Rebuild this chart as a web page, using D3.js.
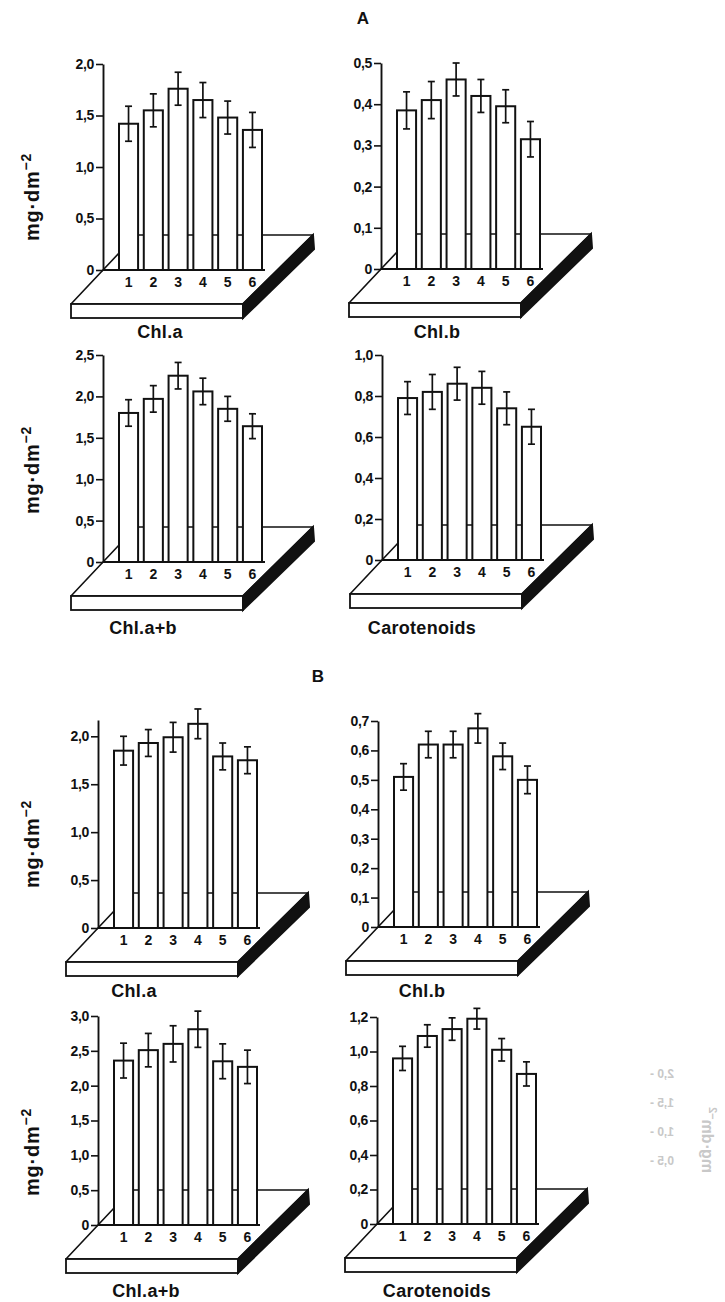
<!DOCTYPE html>
<html>
<head>
<meta charset="utf-8">
<script src="https://cdn.jsdelivr.net/npm/d3@7/dist/d3.min.js"></script>
<style>
  html, body { margin: 0; padding: 0; background: #fff; }
  svg { display: block; }
  text { font-family: "Liberation Sans", Arial, sans-serif; fill: #111; }
</style>
</head>
<body>
<svg id="chart" width="725" height="1302"></svg>
<script>
// ---------- DATA ----------
const categories = ["1", "2", "3", "4", "5", "6"];

// Panel A
const aChlA      = [1.42, 1.55, 1.76, 1.65, 1.48, 1.36];
const aChlAErr   = [0.17, 0.16, 0.16, 0.17, 0.16, 0.17];
const aChlB      = [0.385, 0.41, 0.46, 0.42, 0.395, 0.315];
const aChlBErr   = [0.045, 0.045, 0.04, 0.04, 0.04, 0.043];
const aChlAB     = [1.80, 1.97, 2.25, 2.06, 1.85, 1.64];
const aChlABErr  = [0.16, 0.16, 0.16, 0.16, 0.15, 0.15];
const aCar       = [0.79, 0.82, 0.86, 0.84, 0.74, 0.65];
const aCarErr    = [0.08, 0.085, 0.08, 0.08, 0.08, 0.085];

// Panel B
const bChlA      = [1.85, 1.93, 1.99, 2.13, 1.79, 1.75];
const bChlAErr   = [0.15, 0.14, 0.155, 0.155, 0.14, 0.14];
const bChlB      = [0.51, 0.62, 0.62, 0.675, 0.58, 0.50];
const bChlBErr   = [0.045, 0.045, 0.045, 0.05, 0.045, 0.047];
const bChlAB     = [2.36, 2.51, 2.60, 2.81, 2.35, 2.27];
const bChlABErr  = [0.25, 0.24, 0.26, 0.26, 0.25, 0.24];
const bCar       = [0.96, 1.09, 1.13, 1.19, 1.01, 0.87];
const bCarErr    = [0.07, 0.065, 0.065, 0.06, 0.065, 0.07];

// Tick values
const ticksChlA_A  = [0, 0.5, 1.0, 1.5, 2.0];
const ticksChlB_A  = [0, 0.1, 0.2, 0.3, 0.4, 0.5];
const ticksChlAB_A = [0, 0.5, 1.0, 1.5, 2.0, 2.5];
const ticksCar_A   = [0, 0.2, 0.4, 0.6, 0.8, 1.0];
const ticksChlA_B  = [0, 0.5, 1.0, 1.5, 2.0];
const ticksChlB_B  = [0, 0.1, 0.2, 0.3, 0.4, 0.5, 0.6, 0.7];
const ticksChlAB_B = [0, 0.5, 1.0, 1.5, 2.0, 2.5, 3.0];
const ticksCar_B   = [0, 0.2, 0.4, 0.6, 0.8, 1.0, 1.2];

// Titles
const panelTitles = ["A", "B"];
const chartTitles = ["Chl.a", "Chl.b", "Chl.a+b", "Carotenoids"];
const yAxisLabel = "mg·dm";
const yAxisLabelSup = "−2";
const ghostTicks = ["2,0", "1,5", "1,0", "0,5"];

// ---------- LAYOUT ----------
const svg = d3.select("#chart");
const fmt = v => v === 0 ? "0" : d3.format(".1f")(v).replace(".", ",");

const panels = [
  {vals: aChlA,  errs: aChlAErr,  ticks: ticksChlA_A,  dmax: 2.0,  x0: 103, y0: 270,  yTop: 64,   title: chartTitles[0], tx: 160, ty: 338, label: true, ly: 197},
  {vals: aChlB,  errs: aChlBErr,  ticks: ticksChlB_A,  dmax: 0.5,  x0: 381, y0: 269,  yTop: 63,   title: chartTitles[1], tx: 437, ty: 338, label: false},
  {vals: aChlAB, errs: aChlABErr, ticks: ticksChlAB_A, dmax: 2.5,  x0: 103, y0: 562,  yTop: 355,  title: chartTitles[2], tx: 143, ty: 634, label: true, ly: 470},
  {vals: aCar,   errs: aCarErr,   ticks: ticksCar_A,   dmax: 1.0,  x0: 382, y0: 560,  yTop: 355,  title: chartTitles[3], tx: 422, ty: 634, label: false},
  {vals: bChlA,  errs: bChlAErr,  ticks: ticksChlA_B,  dmax: 2.17, x0: 98,  y0: 928,  yTop: 720,  title: chartTitles[0], tx: 134, ty: 997, label: true, ly: 844},
  {vals: bChlB,  errs: bChlBErr,  ticks: ticksChlB_B,  dmax: 0.7,  x0: 378, y0: 927,  yTop: 721,  title: chartTitles[1], tx: 422, ty: 997, label: false},
  {vals: bChlAB, errs: bChlABErr, ticks: ticksChlAB_B, dmax: 3.0,  x0: 98,  y0: 1225, yTop: 1016, title: chartTitles[2], tx: 146, ty: 1297, label: true, ly: 1152},
  {vals: bCar,   errs: bCarErr,   ticks: ticksCar_B,   dmax: 1.2,  x0: 377, y0: 1224, yTop: 1017, title: chartTitles[3], tx: 437, ty: 1297, label: false}
];

// Section titles
svg.append("text").attr("x", 363).attr("y", 24).attr("text-anchor", "middle")
  .attr("font-size", 17).attr("font-weight", "bold").text(panelTitles[0]);
svg.append("text").attr("x", 318).attr("y", 682).attr("text-anchor", "middle")
  .attr("font-size", 17).attr("font-weight", "bold").text(panelTitles[1]);

panels.forEach(p => {
  const g = svg.append("g");
  const x0 = p.x0, y0 = p.y0;

  const y = d3.scaleLinear().domain([0, p.dmax]).range([y0, p.yTop]);
  const x = d3.scaleBand().domain(categories).range([x0 + 16, x0 + 159]).paddingInner(0.23).paddingOuter(0);

  // Platform (oblique slab)
  const fl = [x0 - 32, y0 + 34], bl = [x0 + 33, y0 - 35], br = [x0 + 210, y0 - 35], fr = [x0 + 140, y0 + 34];
  const th = 14;
  g.append("polygon")
    .attr("points", [fl, bl, br, fr].map(d => d.join(",")).join(" "))
    .attr("fill", "#fff").attr("stroke", "#111").attr("stroke-width", 1.6).attr("stroke-linejoin", "round");
  g.append("rect")
    .attr("x", fl[0]).attr("y", fl[1]).attr("width", fr[0] - fl[0]).attr("height", th)
    .attr("fill", "#fff").attr("stroke", "#111").attr("stroke-width", 1.8);
  g.append("polygon")
    .attr("points", [fr, br, [br[0] + 1, br[1] + th], [fr[0], fr[1] + th]].map(d => d.join(",")).join(" "))
    .attr("fill", "#111").attr("stroke", "#111").attr("stroke-width", 2);

  // Baseline on platform
  g.append("line").attr("x1", x0).attr("x2", x0 + 162).attr("y1", y0).attr("y2", y0)
    .attr("stroke", "#111").attr("stroke-width", 1.8);

  // Y axis
  const axis = d3.axisLeft(y).tickValues(p.ticks).tickFormat(fmt).tickSizeInner(7).tickSizeOuter(0).tickPadding(2);
  const ag = g.append("g").attr("transform", `translate(${x0},0)`).call(axis);
  ag.select(".domain").attr("stroke", "#111").attr("stroke-width", 1.9);
  ag.selectAll(".tick line").attr("stroke", "#111").attr("stroke-width", 1.6);
  ag.selectAll(".tick text").attr("font-size", 14).attr("font-weight", "bold")
    .attr("font-family", "'Liberation Sans', Arial, sans-serif").attr("fill", "#111")
    .attr("letter-spacing", -0.3);

  // Bars
  const data = categories.map((c, i) => ({c, v: p.vals[i], e: p.errs[i]}));
  g.selectAll("rect.bar").data(data).enter().append("rect").attr("class", "bar")
    .attr("x", d => x(d.c)).attr("width", x.bandwidth())
    .attr("y", d => y(d.v)).attr("height", d => y0 - y(d.v))
    .attr("fill", "#fff").attr("stroke", "#111").attr("stroke-width", 2);

  // Error bars
  const eg = g.selectAll("g.err").data(data).enter().append("g").attr("class", "err")
    .attr("stroke", "#111").attr("stroke-width", 1.7);
  const cx = d => x(d.c) + x.bandwidth() / 2;
  eg.append("line").attr("x1", cx).attr("x2", cx).attr("y1", d => y(d.v - d.e)).attr("y2", d => y(d.v + d.e));
  eg.append("line").attr("x1", d => cx(d) - 3.5).attr("x2", d => cx(d) + 3.5).attr("y1", d => y(d.v + d.e)).attr("y2", d => y(d.v + d.e));
  eg.append("line").attr("x1", d => cx(d) - 3.5).attr("x2", d => cx(d) + 3.5).attr("y1", d => y(d.v - d.e)).attr("y2", d => y(d.v - d.e));

  // Category labels
  g.selectAll("text.cat").data(categories).enter().append("text").attr("class", "cat")
    .attr("x", d => x(d) + x.bandwidth() / 2).attr("y", y0 + 17)
    .attr("text-anchor", "middle").attr("font-size", 14).attr("font-weight", "bold").text(d => d);

  // Title
  g.append("text").attr("x", p.tx).attr("y", p.ty).attr("text-anchor", "middle")
    .attr("font-size", 18).attr("font-weight", "bold").attr("letter-spacing", 0.3).text(p.title);

  // Y label
  if (p.label) {
    const t = g.append("text").attr("transform", `translate(39,${p.ly}) rotate(-90)`)
      .attr("text-anchor", "middle").attr("font-size", 20).attr("font-weight", "bold").attr("letter-spacing", 0.8);
    t.append("tspan").text(yAxisLabel);
    t.append("tspan").attr("dy", -8).attr("font-size", 14).text(yAxisLabelSup);
  }
});

// Faint bleed-through from the reverse page (mirrored)
const ghost = svg.append("g");
ghostTicks.forEach((t, i) => {
  ghost.append("text").attr("transform", `translate(662,${1078 + i * 29}) scale(-1,1)`)
    .attr("text-anchor", "middle").attr("font-size", 12).attr("font-weight", "bold")
    .style("fill", "#c8c8c8").text(t + " -");
});
const gl = ghost.append("text").attr("transform", `translate(702,1140) scale(-1,1) rotate(-90)`)
  .attr("text-anchor", "middle").attr("font-size", 16).attr("font-weight", "bold").style("fill", "#c8c8c8");
gl.append("tspan").text(yAxisLabel);
gl.append("tspan").attr("dy", -7).attr("font-size", 11).text(yAxisLabelSup);
</script>
</body>
</html>
